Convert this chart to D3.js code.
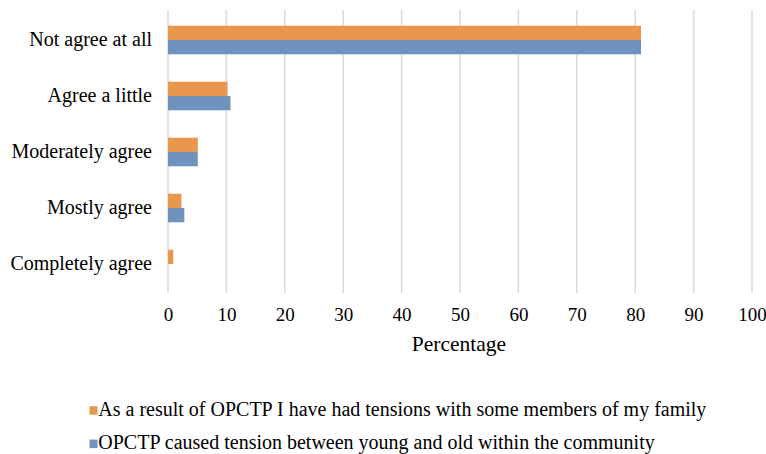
<!DOCTYPE html>
<html>
<head>
<meta charset="utf-8">
<script src="https://d3js.org/d3.v7.min.js"></script>
<style>
  body { margin: 0; background: #fff; }
</style>
</head>
<body>
<svg id="chart" width="766" height="454"></svg>
<script>
var categories = ["Not agree at all", "Agree a little", "Moderately agree", "Mostly agree", "Completely agree"];
var seriesNames = [
    "As a result of OPCTP I have had tensions with some members of my family",
    "OPCTP caused tension between young and old within the community"
];
var familyValues = [81.0, 10.2, 5.1, 2.3, 0.9];
var communityValues = [81.0, 10.7, 5.1, 2.8, 0];
var xTicks = [0, 10, 20, 30, 40, 50, 60, 70, 80, 90, 100];
var colors = ["#e9964f", "#6f93bd"];
var serif = "'Times New Roman', 'Liberation Serif', serif";

var svg = d3.select("#chart");

var x = d3.scaleLinear().domain([0, 100]).range([168, 752]);
var y = d3.scaleBand().domain(categories).range([12, 292]).paddingInner(0.49).paddingOuter(0.245);
var ySub = d3.scaleBand().domain([0, 1]).range([0, y.bandwidth()]);

// gridlines
svg.append("g")
    .selectAll("line")
    .data(xTicks)
    .join("line")
        .attr("x1", function(d){ return x(d); })
        .attr("x2", function(d){ return x(d); })
        .attr("y1", 10)
        .attr("y2", 293)
        .attr("stroke", "#d9d9d9")
        .attr("stroke-width", 1.5);

var rows = [familyValues, communityValues];
var bars = svg.append("g");
rows.forEach(function(vals, si){
    bars.append("g")
        .selectAll("rect")
        .data(vals)
        .join("rect")
            .attr("x", x(0))
            .attr("y", function(d, i){ return y(categories[i]) + ySub(si); })
            .attr("width", function(d){ return x(d) - x(0); })
            .attr("height", ySub.bandwidth())
            .attr("fill", colors[si]);
});

// x tick labels
var xAxis = d3.axisBottom(x).tickValues(xTicks).tickSize(0).tickPadding(0);
var xg = svg.append("g")
    .attr("transform", "translate(0,307.5)")
    .call(xAxis);
xg.select(".domain").remove();
xg.attr("font-family", serif).attr("font-size", 19);
xg.selectAll("text").attr("fill", "#000");

// y category labels
var yAxis = d3.axisLeft(y).tickSize(0).tickPadding(16);
var yg = svg.append("g")
    .attr("transform", "translate(" + x(0) + ",0)")
    .call(yAxis);
yg.select(".domain").remove();
yg.attr("font-family", serif).attr("font-size", 20);
yg.selectAll("text").attr("fill", "#000");

svg.append("text")
    .attr("x", 459)
    .attr("y", 350.7)
    .attr("text-anchor", "middle")
    .attr("font-family", serif)
    .attr("font-size", 21.5)
    .text("Percentage");

// legend
var legend = svg.append("g").attr("font-family", serif).attr("font-size", 20);
seriesNames.forEach(function(name, i){
    var base = 415.7 + i * 33.4;
    legend.append("rect")
        .attr("x", 89.5)
        .attr("y", base - 9.5)
        .attr("width", 8)
        .attr("height", 8.5)
        .attr("fill", colors[i]);
    legend.append("text")
        .attr("x", 98.3)
        .attr("y", base)
        .text(name);
});
</script>
</body>
</html>
